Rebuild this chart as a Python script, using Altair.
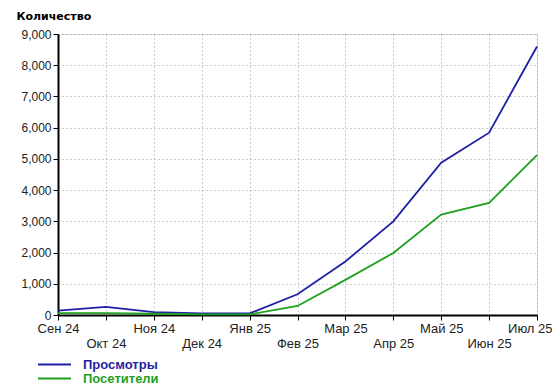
import json
import altair as alt
import pandas as pd

months = ["Сен 24", "Окт 24", "Ноя 24", "Дек 24", "Янв 25", "Фев 25",
          "Мар 25", "Апр 25", "Май 25", "Июн 25", "Июл 25"]
views = [140, 260, 90, 50, 50, 665, 1714, 3000, 4880, 5840, 8600]
visitors = [60, 60, 40, 20, 20, 290, 1125, 1985, 3215, 3590, 5120]
series_names = ["Просмотры", "Посетители"]
series_colors = ["#1f1fa6", "#1fa01f"]
y_ticks = [0, 1000, 2000, 3000, 4000, 5000, 6000, 7000, 8000, 9000]
y_title = "Количество"

rows = []
for m, v in zip(months, views):
    rows.append({"month": m, "series": series_names[0], "value": v})
for m, v in zip(months, visitors):
    rows.append({"month": m, "series": series_names[1], "value": v})
df = pd.DataFrame(rows)

FONT = "Liberation Sans"
months_js = json.dumps(months, ensure_ascii=False)
label_expr = f"indexof({months_js}, datum.value) % 2 ? ['', datum.value] : datum.value"
last_test = f"datum.value == '{months[-1]}'"
legend_color_expr = (
    f"datum.value == '{series_names[0]}' ? '{series_colors[0]}' : '{series_colors[1]}'"
)

chart = (
    alt.Chart(df)
    .mark_line(strokeWidth=1.8)
    .encode(
        x=alt.X(
            "month:O",
            sort=months,
            scale=alt.Scale(type="point", padding=0),
            axis=alt.Axis(
                title=None,
                labelAngle=0,
                labelExpr=label_expr,
                labelLineHeight=15,
                labelPadding=2,
                labelFont=FONT,
                labelFontSize=13,
                labelColor="#222",
                labelAlign={"condition": {"test": last_test, "value": "right"}, "value": "center"},
                labelOffset={"condition": {"test": last_test, "value": 15}, "value": 0},
                tickSize=5,
                tickColor="#000",
                domainColor="#000",
                domainWidth=2,
                grid=True,
                gridColor="#999",
                gridDash=[1, 3],
                labelOverlap=False,
            ),
        ),
        y=alt.Y(
            "value:Q",
            scale=alt.Scale(domain=[0, 9000], nice=False),
            axis=alt.Axis(
                title=y_title,
                titleAngle=0,
                titleX=-42,
                titleY=-18,
                titleAlign="left",
                titleBaseline="middle",
                titleFont="DejaVu Sans",
                titleFontSize=11,
                titleFontWeight="bold",
                titleColor="#000",
                values=y_ticks,
                format=",d",
                labelFont=FONT,
                labelFontSize=12,
                labelColor="#222",
                labelPadding=2,
                tickSize=5,
                tickColor="#000",
                domainColor="#000",
                domainWidth=2,
                gridColor="#999",
                gridDash=[1, 3],
            ),
        ),
        color=alt.Color(
            "series:N",
            sort=series_names,
            scale=alt.Scale(domain=series_names, range=series_colors),
            legend=alt.Legend(
                title=None,
                orient="none",
                legendX=-21,
                legendY=324,
                padding=0,
                symbolType="stroke",
                symbolSize=1089,
                symbolStrokeWidth=2,
                clipHeight=13,
                labelOffset=11,
                rowPadding=0,
                labelFont=FONT,
                labelFontSize=13,
                labelFontWeight="bold",
                labelColor=alt.ExprRef(legend_color_expr),
            ),
        ),
    )
    .properties(
        width=479,
        height=281,
        padding={"left": 50, "top": 26, "right": 15, "bottom": 72},
        autosize=alt.AutoSizeParams(type="none"),
    )
    .configure_view(fill="#f5f5f5", stroke=None)
    .configure(background="white")
)

chart.save("out.html", embed_options={"renderer": "svg", "actions": False})
